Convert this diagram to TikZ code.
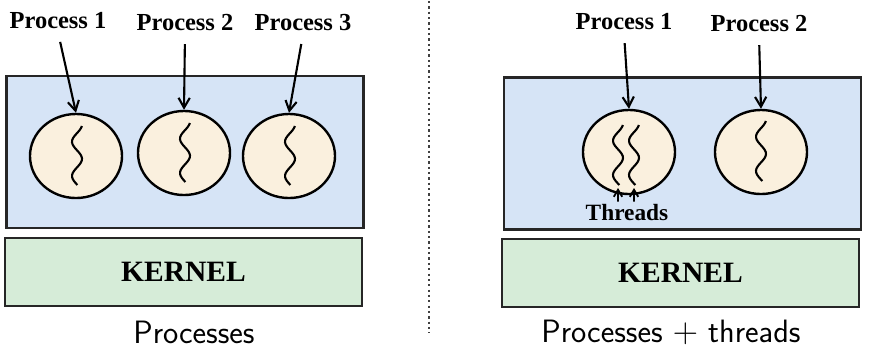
\documentclass[tikz,border=0pt]{standalone}
\usepackage{fontspec}
\setmainfont{Liberation Serif}
\usetikzlibrary{positioning}
\usetikzlibrary{arrows.meta,shapes.geometric}
\definecolor{userblue}{RGB}{214,228,246}
\definecolor{kernelgreen}{RGB}{214,236,216}
\definecolor{procbeige}{RGB}{250,240,222}
\tikzstyle{userspace}=[rectangle,draw=black!85,fill=userblue,line width=1.9pt,minimum width=8.92cm,minimum height=3.8cm,inner sep=0pt]
\tikzstyle{kernelbox}=[rectangle,draw=black!85,fill=kernelgreen,line width=1.9pt,minimum width=8.92cm,minimum height=1.7cm,font=\fontsize{21}{24}\selectfont\bfseries]
\tikzstyle{process}=[ellipse,draw=black,fill=procbeige,line width=1.7pt,minimum width=2.3cm,minimum height=2.1cm,inner sep=0pt]
\tikzstyle{proclabel}=[font=\fontsize{17.4}{20}\selectfont\bfseries,inner sep=2pt]
\tikzstyle{caption}=[font=\fontsize{23}{26}\selectfont\sffamily]
\tikzstyle{pointer}=[-{Straight Barb[length=7pt,width=8pt,line width=1.5pt]},line width=1.5pt,shorten <=7pt]
\tikzstyle{thread}=[line width=1.5pt]

\begin{document}
\begin{tikzpicture}[x=0.025cm,y=-0.025cm]
\useasboundingbox (0,0) rectangle (869,351);

%Processes
    \node[userspace] (userL) at (185,152) {};
    \node[kernelbox] (kernelL) at (183.5,272) {KERNEL};

    \foreach \pos/\name/\lpos/\label in {{(76,156)/pa/(58,21)/Process 1}, {(184,153)/pb/(185,23)/Process 2}, {(289,156)/pc/(303,23)/Process 3}}
    {
        \node[process] (\name) at \pos {};
        \node[proclabel] (\name lbl) at \lpos {\label};
        \draw[pointer] (\name lbl.south) -- (\name.north);
    }
    \foreach \cx/\cy in {77/156, 185/153, 290/156}
        \draw[thread] plot[smooth, variable=\t, domain=-30:29, samples=30] ({\cx+5*sin(\t*10.5+60)}, {\cy+\t});

\node[caption] (capL) at (194,332) {Processes};

%Divider
    \coordinate (divtop) at (429,1);
    \coordinate (divbot) at (429,333);
    \draw[line width=1.6pt, dash pattern=on 1.6pt off 2.2pt, black!75] (divtop) -- (divbot);

%Processes + threads
    \node[userspace] (userR) at (682.5,153.5) {};
    \node[kernelbox] (kernelR) at (680.5,273) {KERNEL};

    \foreach \pos/\name/\lpos/\label in {{(629,152)/pd/(624,22)/Process 1}, {(761,152)/pe/(759,24)/Process 2}}
    {
        \node[process] (\name) at \pos {};
        \node[proclabel] (\name lbl) at \lpos {\label};
        \draw[pointer] (\name lbl.south) -- (\name.north);
    }
    \foreach \cx/\cy in {618/155, 634/155, 761/151}
        \draw[thread] plot[smooth, variable=\t, domain=-30:30, samples=30] ({\cx+5*sin(\t*10.5+60)}, {\cy+\t});

\node[proclabel, font=\fontsize{16.6}{19}\selectfont\bfseries] (thr) at (627,213) {Threads};
\coordinate (tha) at (618,188);
\coordinate (thb) at (634,188);
\foreach \xs/\dest in {-6.4pt/tha, 5pt/thb}
    \draw[-{Straight Barb[length=5pt,width=6pt]}, line width=1.3pt] ([xshift=\xs]thr.north) -- (\dest);

\node[caption] (capR) at (671,332) {Processes $+$ threads};

\end{tikzpicture}
\end{document}
